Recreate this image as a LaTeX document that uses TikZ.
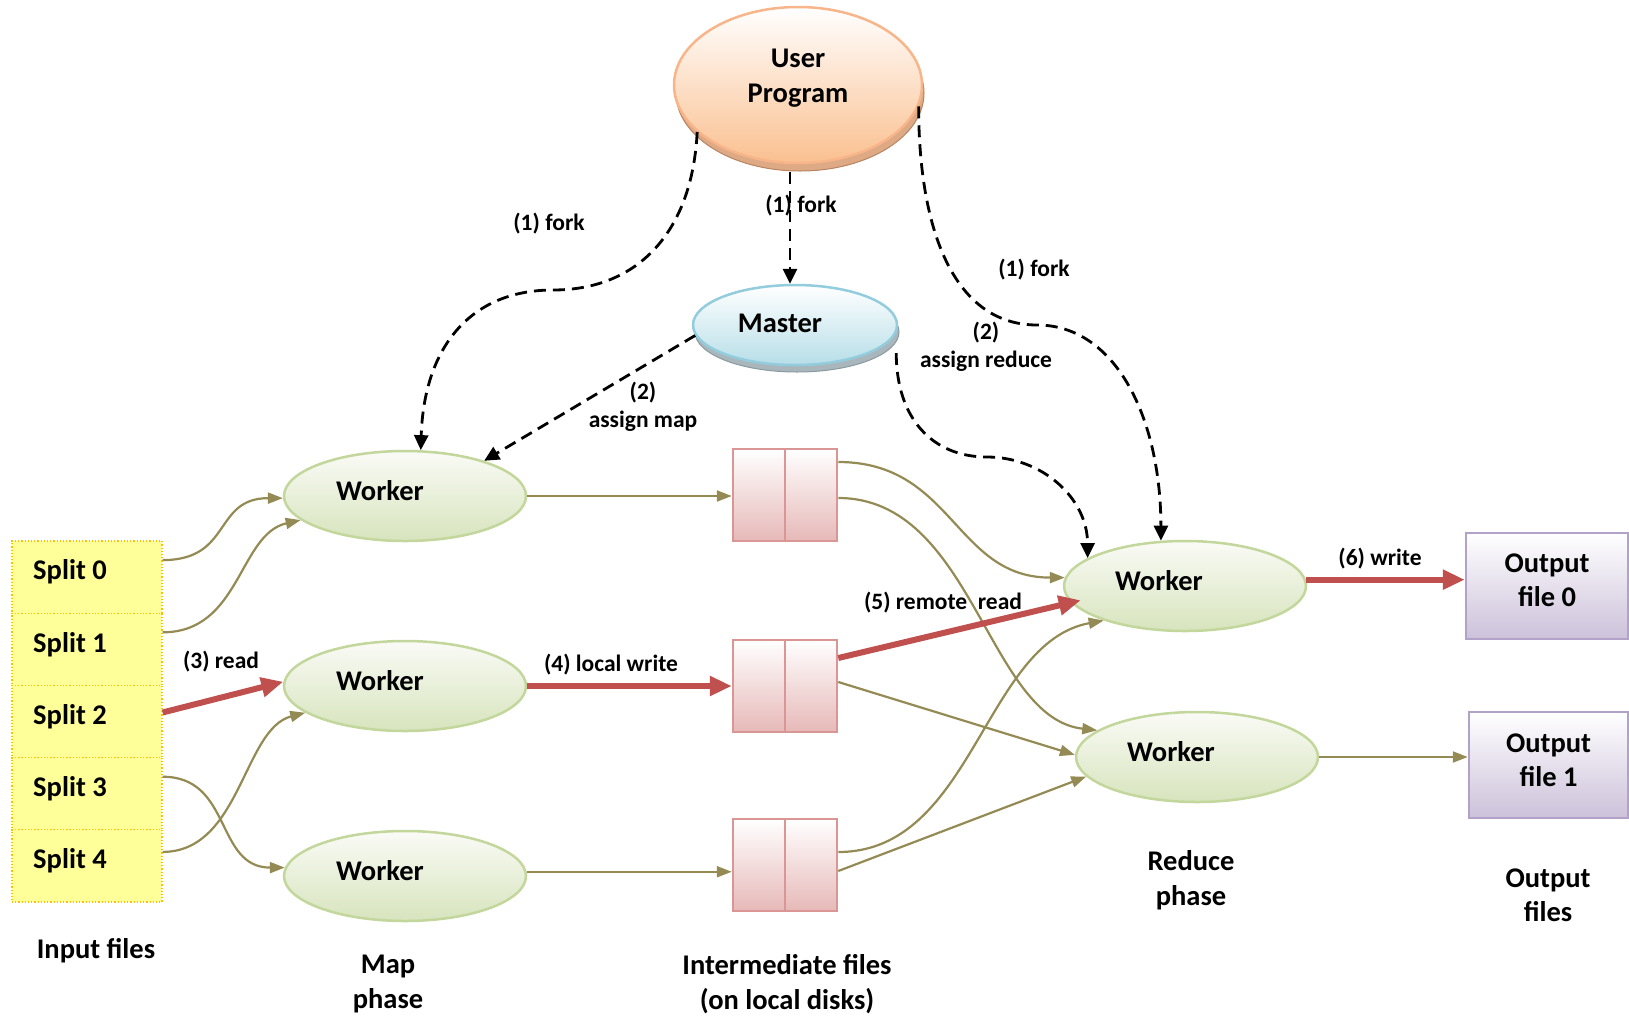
\documentclass[tikz,border=0pt]{standalone}
\usepackage{fontspec}
\setmainfont{Carlito}
\usetikzlibrary{shapes.geometric,arrows.meta,shadows}
\definecolor{olive}{HTML}{948A54}
\definecolor{redc}{HTML}{C0504D}
\definecolor{wBord}{HTML}{C3D69B}
\definecolor{wBot}{HTML}{D7E4BD}
\definecolor{wTop}{HTML}{FAFBF6}
\definecolor{uBord}{HTML}{F8B58A}
\definecolor{uBot}{HTML}{FAC090}
\definecolor{uRim}{HTML}{DDAA85}
\definecolor{uRimD}{HTML}{B98461}
\definecolor{mBord}{HTML}{93CDDD}
\definecolor{mBot}{HTML}{B7DEE8}
\definecolor{mRim}{HTML}{A9B7BC}
\definecolor{mRimD}{HTML}{8A9AA0}
\definecolor{fBord}{HTML}{D99694}
\definecolor{fBot}{HTML}{E6B9B8}
\definecolor{oBord}{HTML}{B3A2C7}
\definecolor{oBot}{HTML}{CCC1DA}
\definecolor{sFill}{HTML}{FFFF99}
\definecolor{sBord}{HTML}{FFC000}
\begin{document}
\begin{tikzpicture}[x=1pt,y=-1pt,
  base/.style={font=\fontsize{28.5}{34.5}\selectfont\bfseries, align=center, inner sep=0pt},
  elab/.style={font=\fontsize{23.5}{28.5}\selectfont\bfseries, align=center, inner sep=0pt},
  worker/.style={ellipse, draw=wBord, line width=2.5pt, top color=wTop, bottom color=wBot,
     minimum width=242pt, minimum height=90pt, inner sep=0pt},
  userp/.style={ellipse, draw=uBord, line width=2.5pt, top color=white, bottom color=uBot,
     minimum width=248pt, minimum height=156pt, inner sep=0pt,
     drop shadow={shadow xshift=2pt, shadow yshift=-8pt, opacity=1, fill=uRim, draw=uRimD, line width=1pt}},
  master/.style={ellipse, draw=mBord, line width=2.5pt, top color=white, bottom color=mBot,
     minimum width=204pt, minimum height=80pt, inner sep=0pt,
     drop shadow={shadow xshift=2pt, shadow yshift=-7pt, opacity=1, fill=mRim, draw=mRimD, line width=1pt}},
  filebox/.style={rectangle, draw=fBord, line width=2.5pt, top color=white, bottom color=fBot,
     minimum width=104pt, minimum height=92pt, inner sep=0pt,
     path picture={\draw[fBord, line width=2.5pt] (path picture bounding box.north) -- (path picture bounding box.south);}},
  outb/.style={rectangle, draw=oBord, line width=2.5pt, top color=white, bottom color=oBot,
     minimum width=162pt, minimum height=106pt, inner sep=0pt},
  splitb/.style={rectangle, draw=sBord, dotted, line width=1.2pt, fill=sFill,
     minimum width=150pt, minimum height=72.2pt, inner sep=0pt},
  olv/.style={draw=olive, line width=2.2pt, -{Triangle[length=15pt,width=11pt]}},
  redarr/.style={draw=redc, line width=6pt, -{Triangle[length=22pt,width=19pt]}},
  dsh/.style={draw=black, line width=2.8pt, dash pattern=on 12pt off 7pt, -{Triangle[length=15pt,width=14pt]}}
]
\path[use as bounding box] (0,0) rectangle (1629,1018);

% main nodes
\node[userp, label={[base,yshift=7pt]center:User\\Program}] (up) at (798,85) {};
\node[master, label={[base,xshift=-15pt,yshift=2pt]center:Master}] (m) at (795,325) {};

\node[worker, label={[base,xshift=-25pt,yshift=5pt]center:Worker}] (w1) at (405,496) {};
\node[worker, label={[base,xshift=-25pt,yshift=5pt]center:Worker}] (w2) at (405,686) {};
\node[worker, label={[base,xshift=-25pt,yshift=5pt]center:Worker}] (w3) at (405,876) {};

\node[worker, label={[base,xshift=-26pt,yshift=5pt]center:Worker}] (r0) at (1185,586) {};
\node[worker, label={[base,xshift=-26pt,yshift=5pt]center:Worker}] (r1) at (1197,757) {};

\node[filebox] (f1) at (785,495) {};
\node[filebox] (f2) at (785,686) {};
\node[filebox] (f3) at (785,865) {};

\node[outb, label={[base,yshift=6pt]center:Output\\file 0}] (o0) at (1547,586) {};
\node[outb, minimum width=159pt, label={[base,yshift=5pt]center:Output\\file 1}] (o1) at (1548.5,765) {};

\node[splitb, label={[base,xshift=-17pt,yshift=5pt]center:Split 0}] (s0) at (87,577.1) {};
\node[splitb, label={[base,xshift=-17pt,yshift=5pt]center:Split 1}] (s1) at (87,649.3) {};
\node[splitb, label={[base,xshift=-17pt,yshift=5pt]center:Split 2}] (s2) at (87,721.5) {};
\node[splitb, label={[base,xshift=-17pt,yshift=5pt]center:Split 3}] (s3) at (87,793.7) {};
\node[splitb, label={[base,xshift=-17pt,yshift=5pt]center:Split 4}] (s4) at (87,865.9) {};

% captions
\node[base] (lin) at (96,951) {Input files};
\node[base] (lmap) at (388,984) {Map\\phase};
\node[base] (lint) at (787,984) {Intermediate files\\(on local disks)};
\node[base] (lred) at (1191,880) {Reduce\\phase};
\node[base] (lout) at (1548,895) {Output\\files};

% edge labels
\node[elab] (e1) at (549,224) {(1) fork};
\node[elab] (e2) at (801,206) {(1) fork};
\node[elab] (e3) at (1034,270) {(1) fork};
\node[elab] (e4) at (986,347) {(2)\\assign reduce};
\node[elab] (e5) at (643,407) {(2)\\assign map};
\node[elab] (e6) at (221,662) {(3) read};
\node[elab] (e7) at (611,665) {(4) local write};
\node[elab] (e8) at (943,603) {(5) remote~~read};
\node[elab] (e9) at (1380,559) {(6) write};

% dashed control connectors
\draw[dsh] ([xshift=-8pt,yshift=-8pt]up.south) -- ([xshift=-5pt]m.north);
\draw[dsh] (up.205) .. controls +(-5,100) and +(85,0) .. (553,290)
                    .. controls +(-85,0) and +(3,-100) .. (w1.71);
\draw[dsh] (up.350) .. controls +(0,130) and +(-80,0) .. (1037,325)
                    .. controls +(80,0) and +(0,-120) .. (r0.118);
\draw[dsh] (m.186) -- (w1.24);
\draw[dsh] ([xshift=-2pt,yshift=-28pt]m.east) .. controls +(0,65) and +(-55,0) .. (987,457)
                    .. controls +(55,0) and +(0,-60) .. (r0.164);

% input splits to map workers
\draw[olv] ([yshift=17pt]s0.east) .. controls +(70,0) and +(-70,0) .. (w1.181);
\draw[olv] ([yshift=17pt]s1.east) .. controls +(78,0) and +(-62,14) .. (w1.193);
\draw[redarr] ([yshift=9pt]s2.east) -- (w2.178);
\draw[olv] ([yshift=17pt]s3.east) .. controls +(70,0) and +(-70,0) .. (w3.176);
\draw[olv] ([yshift=14pt]s4.east) .. controls +(78,0) and +(-62,16) .. (w2.195);

% map workers to intermediate files
\draw[olv] (w1.east) -- (w1.east -| f1.west);
\draw[redarr] (w2.east) -- (w2.east -| f2.west);
\draw[olv] (w3.2) -- (w3.2 -| f3.west);

% intermediate files to reduce workers
\draw[olv] ([yshift=33pt]f1.east) .. controls +(115,0) and +(-110,0) .. (r0.176);
\draw[olv] ([yshift=-3pt]f1.east) .. controls +(135,0) and +(-110,-12) .. (r1.165);
\draw[redarr] ([yshift=28pt]f2.east) -- ([xshift=12pt]r0.187);
\draw[olv] ([yshift=4pt]f2.east) -- (r1.179);
\draw[olv] ([yshift=13pt]f3.east) .. controls +(135,0) and +(-120,22) .. (r0.203);
\draw[olv] ([yshift=-6pt]f3.east) -- (r1.190);

% reduce workers to outputs
\draw[redarr] (r0.3) -- (r0.3 -| o0.west);
\draw[olv] (r1.east) -- (r1.east -| o1.west);
\end{tikzpicture}
\end{document}
